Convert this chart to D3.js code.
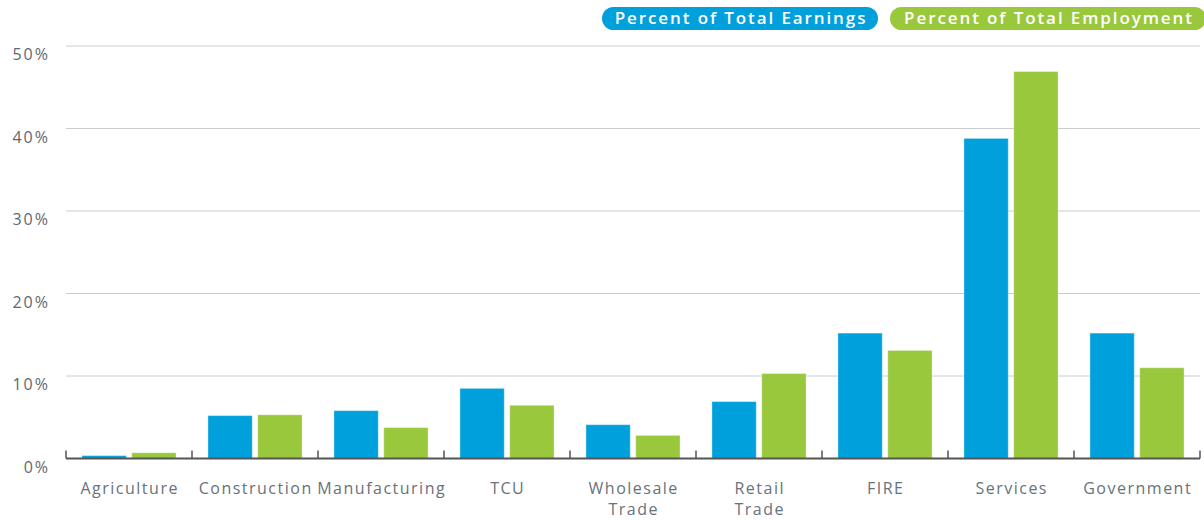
<!DOCTYPE html>
<html><head><meta charset="utf-8">
<script src="https://cdn.jsdelivr.net/npm/d3@7"></script>
<style>
body{margin:0;background:#fff;}
svg{display:block;font-family:"Open Sans","Lato",sans-serif;}
</style></head>
<body><svg id="c" width="1204" height="520"></svg>
<script>
const categories = ["Agriculture","Construction","Manufacturing","TCU","Wholesale Trade","Retail Trade","FIRE","Services","Government"];
const labelLines = [["Agriculture"],["Construction"],["Manufacturing"],["TCU"],["Wholesale","Trade"],["Retail","Trade"],["FIRE"],["Services"],["Government"]];
const earnings = [0.35, 5.2, 5.8, 8.5, 4.1, 6.9, 15.2, 38.8, 15.2];
const employment = [0.7, 5.3, 3.75, 6.45, 2.8, 10.3, 13.1, 46.9, 11.0];
const seriesNames = ["Percent of Total Earnings","Percent of Total Employment"];
const colors = ["#00a0dc","#99c83d"];
const yTicks = [0,10,20,30,40,50];

const svg = d3.select("#c");
const x0 = d3.scaleBand().domain(categories).range([66,1200]).paddingInner(0).paddingOuter(0);
const x1 = d3.scaleBand().domain([0,1]).range([0,x0.bandwidth()]).paddingInner(0.11).paddingOuter(0.32);
const y = d3.scaleLinear().domain([0,50]).range([458.5,46]);

// gridlines
svg.append("g").selectAll("line").data(yTicks.filter(d=>d>0)).join("line")
  .attr("x1",66).attr("x2",1200).attr("y1",d=>y(d)).attr("y2",d=>y(d))
  .attr("stroke","#c8cdd0").attr("stroke-width",1);

// y labels
svg.append("g").selectAll("text").data(yTicks).join("text")
  .attr("x",50).attr("y",d=>y(d)+14).attr("text-anchor","end")
  .attr("font-size",16).attr("letter-spacing","2px").attr("fill","#5f6870").text(d=>d+"%");

// bars
const data = categories.map((c,i)=>({c, v:[earnings[i],employment[i]]}));
const g = svg.append("g");
data.forEach(d=>{
  d.v.forEach((v,s)=>{
    g.append("rect")
      .attr("x",x0(d.c)+x1(s)).attr("width",x1.bandwidth())
      .attr("y",y(v)).attr("height",y(0)-y(v))
      .attr("fill",colors[s]).attr("stroke","rgba(255,255,255,0.35)").attr("stroke-width",1);
  });
});

// x axis
const axis = d3.axisBottom(x0).tickSize(0).tickFormat("");
svg.append("g").attr("transform",`translate(0,${y(0)})`).call(axis)
  .call(a=>a.select(".domain").attr("stroke","#555").attr("stroke-width",2).attr("d",`M66,0H1200`));
const bounds = categories.map(c=>x0(c)).concat([1200]);
svg.append("g").selectAll("line").data(bounds).join("line")
  .attr("x1",d=>d).attr("x2",d=>d).attr("y1",y(0)).attr("y2",y(0)-8)
  .attr("stroke","#555").attr("stroke-width",1.5);

// category labels
const lg = svg.append("g");
categories.forEach((c,i)=>{
  const cx = x0(c)+x0.bandwidth()/2 + 0.7;
  const t = lg.append("text").attr("x",cx).attr("y",494)
    .attr("text-anchor","middle").attr("font-size",16).attr("letter-spacing","1.5px").attr("fill","#68727c");
  labelLines[i].forEach((l,j)=>t.append("tspan").attr("x",cx).attr("dy",j?21:0).text(l));
});

// legend pills
const legX = [602, 890];
const legW = [276, 316];
seriesNames.forEach((n,i)=>{
  svg.append("rect").attr("x",legX[i]).attr("y",7).attr("width",legW[i]).attr("height",23)
    .attr("rx",11.5).attr("fill",colors[i]);
  svg.append("text").attr("x",legX[i]+legW[i]/2+1).attr("y",24).attr("text-anchor","middle")
    .attr("font-size",17).attr("font-weight",600).attr("letter-spacing","1.9px").attr("fill","#fff").text(n);
});
</script></body></html>
